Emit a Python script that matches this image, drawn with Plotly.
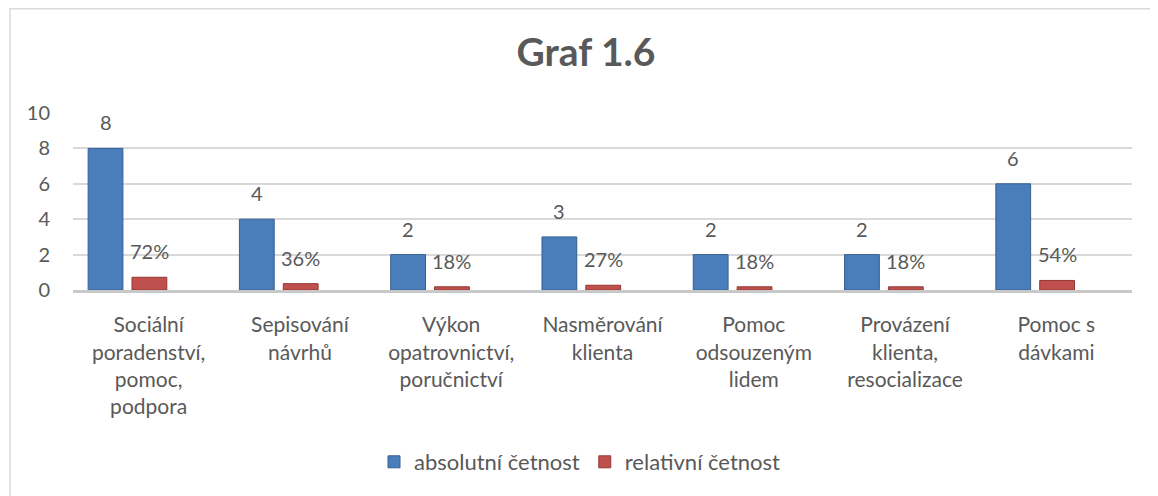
import plotly.graph_objects as go

categories = [
    "Sociální<br>poradenství,<br>pomoc,<br>podpora",
    "Sepisování<br>návrhů",
    "Výkon<br>opatrovnictví,<br>poručnictví",
    "Nasměrování<br>klienta",
    "Pomoc<br>odsouzeným<br>lidem",
    "Provázení<br>klienta,<br>resocializace",
    "Pomoc s<br>dávkami",
]
absolutni = [8, 4, 2, 3, 2, 2, 6]
relativni = [0.72, 0.36, 0.18, 0.27, 0.18, 0.18, 0.54]
abs_labels = ["8", "4", "2", "3", "2", "2", "6"]
rel_labels = ["72%", "36%", "18%", "27%", "18%", "18%", "54%"]
y_ticks = [0, 2, 4, 6, 8, 10]

W, H = 1158, 496
OFF = 8  # page body margin
ML, MR, MT, MB = 73 - OFF, 34, 113 - OFF, 214
plot_w = W - ML - MR
plot_h = H - MT - MB
cat_px = plot_w / len(categories)

FONT = "Lato, 'Open Sans', sans-serif"
GREY = "#595959"
BLUE = "#4A7EBB"
RED = "#C0504D"

BAR_W = 0.23
BLUE_OFF = -0.40
RED_OFF = -0.11

fig = go.Figure()
fig.add_trace(go.Bar(
    x=categories, y=absolutni, name="absolutní četnost",
    width=BAR_W, offset=BLUE_OFF,
    marker=dict(color=BLUE, line=dict(color="#365F91", width=1)),
))
fig.add_trace(go.Bar(
    x=categories, y=relativni, name="relativní četnost",
    width=BAR_W, offset=RED_OFF,
    marker=dict(color=RED, line=dict(color="#953735", width=1)),
))

blue_shift = (BLUE_OFF + BAR_W / 2) * cat_px
red_shift = (RED_OFF + BAR_W / 2) * cat_px
for c, v, t in zip(categories, absolutni, abs_labels):
    fig.add_annotation(x=c, y=v, xref="x", yref="y", text=t, showarrow=False,
                       yanchor="bottom", xanchor="center", xshift=blue_shift, yshift=12,
                       font=dict(family=FONT, size=20, color=GREY))
for c, v, t in zip(categories, relativni, rel_labels):
    fig.add_annotation(x=c, y=v, xref="x", yref="y", text=t, showarrow=False,
                       yanchor="bottom", xanchor="center", xshift=red_shift, yshift=12,
                       font=dict(family=FONT, size=20, color=GREY))


def px_to_paper_x(px):
    return (px - ML) / plot_w


def px_to_paper_y(py):
    return (H - MB - py) / plot_h


# chart border (left/top visible)
fig.add_shape(type="rect", xref="paper", yref="paper",
              x0=px_to_paper_x(2), x1=px_to_paper_x(W + 5),
              y0=px_to_paper_y(H + 5), y1=px_to_paper_y(0.8),
              line=dict(color="#D9D9D9", width=1.5), fillcolor="rgba(0,0,0,0)", layer="below")

fig.update_layout(
    width=W, height=H,
    margin=dict(l=ML, r=MR, t=MT, b=MB),
    paper_bgcolor="white", plot_bgcolor="white",
    barmode="overlay",
    title=dict(text="<b>Graf 1.6</b>", x=(586 - OFF) / W, xref="container", xanchor="center",
               y=1 - (52 - OFF) / H, yref="container", yanchor="middle",
               font=dict(family=FONT, size=39, color=GREY)),
    font=dict(family=FONT, size=21, color=GREY),
    legend=dict(orientation="h", x=(580 - OFF) / W, xref="container", xanchor="center",
                y=1 - (462 - OFF) / H, yref="container", yanchor="middle",
                font=dict(family=FONT, size=22, color=GREY), itemwidth=30,
                traceorder="normal"),
    showlegend=True,
)
fig.update_yaxes(range=[0, 10], tickvals=y_ticks, showgrid=True, gridcolor="#D9D9D9",
                 gridwidth=1.5, zeroline=False, showline=False,
                 ticks="outside", ticklen=18, tickcolor="rgba(0,0,0,0)",
                 tickfont=dict(family=FONT, size=20, color=GREY))
fig.update_xaxes(showline=True, linecolor="#C8C8C8", linewidth=3, showgrid=False,
                 ticks="outside", ticklen=14, tickcolor="rgba(0,0,0,0)",
                 tickfont=dict(family=FONT, size=21, color=GREY), tickangle=0)

fig.write_html("out.html")
